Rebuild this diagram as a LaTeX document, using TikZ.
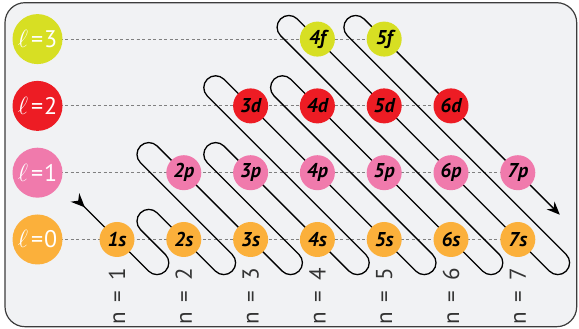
\documentclass[tikz,border=0pt]{standalone}
\usepackage{fontspec}
\setmainfont{PT Sans}
\usetikzlibrary{arrows.meta,calc}

\definecolor{orb0}{RGB}{251,176,59}
\definecolor{orb1}{RGB}{240,122,172}
\definecolor{orb2}{RGB}{237,28,36}
\definecolor{orb3}{RGB}{215,223,35}
\definecolor{panel}{RGB}{241,242,244}
\definecolor{edge}{RGB}{60,60,60}

\tikzset{
  orb/.style={circle, minimum size=35pt, inner sep=0pt,
    font=\fontsize{20}{20}\selectfont\bfseries\itshape},
  lvl/.style={circle, minimum size=50pt, inner sep=0pt, text=white,
    font=\fontsize{24}{24}\selectfont},
  guide/.style={dash pattern=on 3pt off 2.5pt, draw=black!50, line width=0.9pt},
  nlab/.style={rotate=90, inner sep=0pt, text=black!80,
    font=\fontsize{23}{23}\selectfont},
  route/.style={line width=1.3pt, rounded corners=11.8pt,
    arrows={Stealth[reversed,length=14pt,width=12pt]-Stealth[length=13pt,width=11pt]}}
}

\begin{document}
\begin{tikzpicture}[x=1pt,y=1pt]
\useasboundingbox (0,0) rectangle (579,329);

% Panel
\draw[rounded corners=20pt, fill=panel, draw=edge, line width=1.2pt] (5,2.3) rectangle (576.7,326.3);

% Level labels on the left
\foreach \l in {0,...,3}
  \coordinate (c\l) at (37.5, {89.5+66.8*\l});

% Orbitals
\foreach \n/\l/\s in {1/0/s, 2/0/s, 3/0/s, 4/0/s, 5/0/s, 6/0/s, 7/0/s,
                      2/1/p, 3/1/p, 4/1/p, 5/1/p, 6/1/p, 7/1/p,
                      3/2/d, 4/2/d, 5/2/d, 6/2/d,
                      4/3/f, 5/3/f}
  \coordinate (o\n\s) at ({117+66.8*(\n-1)}, {89.5+66.8*\l});

% Dashed rows
\draw[guide] (c0) -- (o7s);
\draw[guide] (c1) -- (o7p);
\draw[guide] (c2) -- (o6d);
\draw[guide] (c3) -- (o5f);

% Filling order path
\draw[route] ($(o1s)+(-42,42)$) -- ($(o1s)+(40,-40)$) -- ($(o1s)+(56.7,-23.3)$)
  -- ($(o2s)+(-51.7,18.3)$) -- ($(o2s)+(-35,35)$)
  -- ($(o2s)+(40,-40)$) -- ($(o2s)+(56.7,-23.3)$)
  -- ($(o2p)+(-51.7,18.3)$) -- ($(o2p)+(-35,35)$)
  -- ($(o3s)+(40,-40)$) -- ($(o3s)+(56.7,-23.3)$)
  -- ($(o3p)+(-51.7,18.3)$) -- ($(o3p)+(-35,35)$)
  -- ($(o4s)+(40,-40)$) -- ($(o4s)+(56.7,-23.3)$)
  -- ($(o3d)+(-51.7,18.3)$) -- ($(o3d)+(-35,35)$)
  -- ($(o5s)+(40,-40)$) -- ($(o5s)+(56.7,-23.3)$)
  -- ($(o4d)+(-51.7,18.3)$) -- ($(o4d)+(-35,35)$)
  -- ($(o6s)+(40,-40)$) -- ($(o6s)+(56.7,-23.3)$)
  -- ($(o4f)+(-45.2,11.8)$) -- ($(o4f)+(-28.5,28.5)$)
  -- ($(o7s)+(40,-40)$) -- ($(o7s)+(56.7,-23.3)$)
  -- ($(o5f)+(-45.2,11.8)$) -- ($(o5f)+(-28.5,28.5)$)
  -- ($(o7p)+(42,-42)$);

% Circles on top
\foreach \l in {0,...,3}
  \node[lvl, fill=orb\l] (lv\l) at (c\l)
    {{\fontsize{29}{29}\selectfont$\ell$}\hspace{3pt}=\hspace{1pt}\l};
\foreach \n/\l/\s in {1/0/s, 2/0/s, 3/0/s, 4/0/s, 5/0/s, 6/0/s, 7/0/s,
                      2/1/p, 3/1/p, 4/1/p, 5/1/p, 6/1/p, 7/1/p,
                      3/2/d, 4/2/d, 5/2/d, 6/2/d,
                      4/3/f, 5/3/f}
  \node[orb, fill=orb\l] (n\n\s) at (o\n\s) {\n\s};

% Shell numbers
\foreach \n in {1,...,7}
  \node[nlab] (sh\n) at ({117+66.8*(\n-1)}, 33) {n\hspace{0.4em}=\hspace{0.45em}\n};
\end{tikzpicture}
\end{document}
